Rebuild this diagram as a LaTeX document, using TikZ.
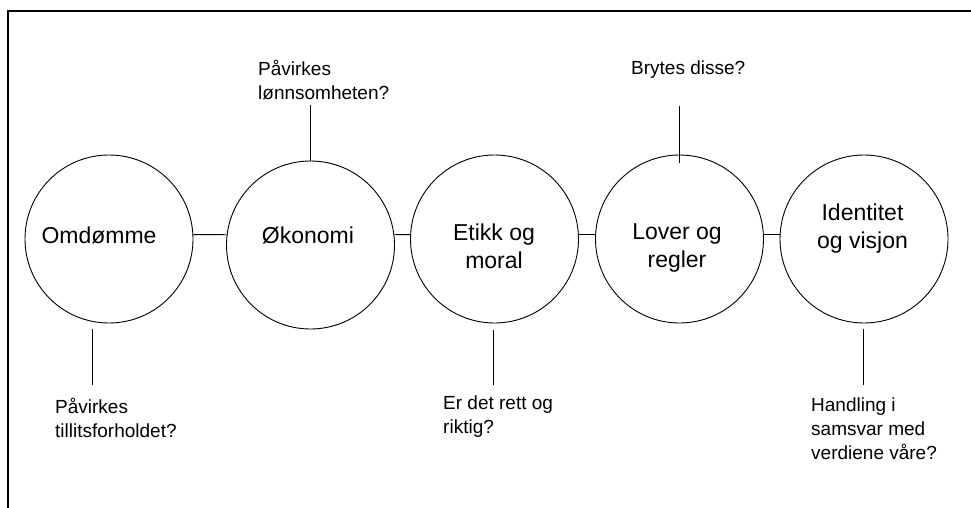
\documentclass[tikz,border=0pt]{standalone}
\usepackage{fontspec}
\setmainfont{Liberation Sans}
\begin{document}
\begin{tikzpicture}[x=1pt,y=-1pt,
  ring/.style={draw, circle, minimum size=168pt, inner sep=0pt, line width=0.9pt},
  big/.style={font=\fontsize{23}{28}\selectfont, align=center, inner sep=0pt},
  small/.style={font=\fontsize{19}{24}\selectfont, align=left, anchor=west, inner sep=0pt},
  conn/.style={line width=0.9pt}]
\useasboundingbox (0,0) rectangle (971,508);
\draw[line width=1.1pt] (971,11) -- (8,11) -- (8,508);
% circles
\node[ring] (c1) at (109,239) {};
\node[ring] (c2) at (310.5,245) {};
\node[ring] (c3) at (494.5,239) {};
\node[ring] (c4) at (679.5,239) {};
\node[ring] (c5) at (864,239) {};
% circle texts
\node[big] (t1) at (99,235) {Omdømme};
\node[big] (t2) at (308,235) {Økonomi};
\node[big] (t3) at (494,246.5) {Etikk og\\moral};
\node[big] (t4) at (677,247.5) {Lover og\\regler};
\node[big] (t5) at (862.5,228.5) {Identitet\\og visjon};
% links between circles
\draw[conn] (c1.3) -- (c2.173);
\draw[conn] (c2.7) -- (c3.177);
\draw[conn] (c3.3) -- (c4.177);
\draw[conn] (c4.3) -- (c5.177);
% question labels
\node[small] (q1) at (55,417.5) {Påvirkes\\tillitsforholdet?};
\node[small] (q2) at (258,80.5) {Påvirkes\\lønnsomheten?};
\node[small] (q3) at (443,416.5) {Er det rett og\\riktig?};
\node[small] (q4) at (631,70) {Brytes disse?};
\node[small] (q5) at (811,428.5) {Handling i\\samsvar med\\verdiene våre?};
% stems
\coordinate (a1) at (92,329); \coordinate (b1) at (92,385);
\draw[conn] (a1) -- (b1);
\coordinate (u2) at (310,105);
\draw[conn] (u2) -- (u2 |- c2.north);
\coordinate (a3) at (493,330); \coordinate (b3) at (493,385);
\draw[conn] (a3) -- (b3);
\coordinate (u4) at (679,106); \coordinate (v4) at (679,163);
\draw[conn] (u4) -- (v4);
\coordinate (a5) at (863,329); \coordinate (b5) at (863,385);
\draw[conn] (a5) -- (b5);
\end{tikzpicture}
\end{document}
